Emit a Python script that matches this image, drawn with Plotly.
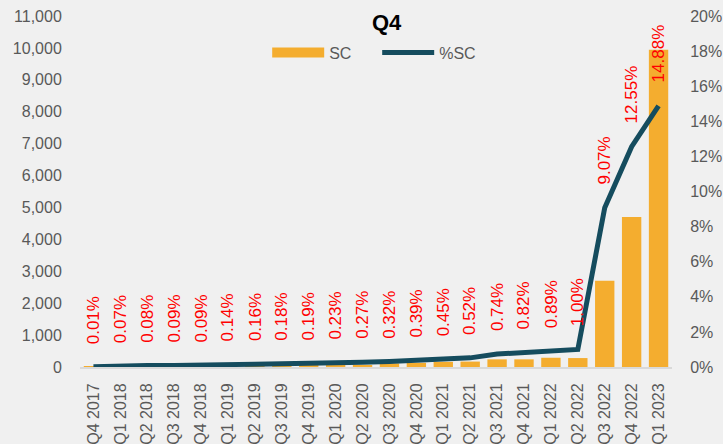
import plotly.graph_objects as go

categories = ["Q4 2017", "Q1 2018", "Q2 2018", "Q3 2018", "Q4 2018", "Q1 2019", "Q2 2019",
              "Q3 2019", "Q4 2019", "Q1 2020", "Q2 2020", "Q3 2020", "Q4 2020", "Q1 2021",
              "Q2 2021", "Q3 2021", "Q4 2021", "Q1 2022", "Q2 2022", "Q3 2022", "Q4 2022", "Q1 2023"]
sc_values = [2, 10, 12, 14, 15, 22, 26, 30, 32, 40, 50, 110, 130, 160, 170, 240, 240, 290, 280,
             2700, 4700, 9940]
pct_sc = [0.0001, 0.0007, 0.0008, 0.0009, 0.0009, 0.0014, 0.0016, 0.0018, 0.0019, 0.0023, 0.0027,
          0.0032, 0.0039, 0.0045, 0.0052, 0.0074, 0.0082, 0.0089, 0.0100, 0.0907, 0.1255, 0.1488]

BG = "#f0f0f0"
GRAY = "#595959"
ORANGE = "#f4ad2f"
TEAL = "#154c5e"
FONT = "Liberation Sans, Arial, sans-serif"

fig = go.Figure()
fig.add_trace(go.Bar(x=categories, y=sc_values, name="SC", marker_color=ORANGE,
                     marker_line_width=0, width=0.72, yaxis="y", showlegend=False))
fig.add_trace(go.Scatter(x=categories, y=pct_sc, name="%SC", mode="lines",
                         line=dict(color=TEAL, width=5), yaxis="y2", showlegend=False))
# legend entries (wide swatches like the original)
fig.add_trace(go.Scatter(x=[None], y=[None], name="SC", mode="lines",
                         line=dict(color=ORANGE, width=11), yaxis="y"))
fig.add_trace(go.Scatter(x=[None], y=[None], name="%SC", mode="lines",
                         line=dict(color=TEAL, width=5), yaxis="y2"))

for c, v in zip(categories, pct_sc):
    fig.add_annotation(x=c, y=v, xref="x", yref="y2", text=f"{v*100:.2f}%", showarrow=False,
                       textangle=-90, yanchor="bottom", xanchor="center", yshift=21,
                       font=dict(color="#ff0000", size=17, family=FONT))

fig.update_layout(
    width=723, height=444,
    margin=dict(l=80, r=51, t=16, b=77),
    paper_bgcolor=BG, plot_bgcolor=BG,
    font=dict(family=FONT, color=GRAY, size=16),
    title=dict(text="<b>Q4</b>", x=0.518, xref="paper", xanchor="center", y=0.95, yanchor="middle",
               font=dict(size=22, color="#000000", family=FONT)),
    legend=dict(orientation="h", x=0.502, xanchor="center", y=0.896, yanchor="middle",
                bgcolor="rgba(0,0,0,0)", font=dict(size=16, color=GRAY), itemwidth=52,
                entrywidth=43, traceorder="normal"),
    xaxis=dict(type="category", tickangle=-90, showgrid=False, showline=True, linecolor="#d9d9d9",
               linewidth=2, ticks="outside", ticklen=8, tickcolor=BG, automargin=False,
               tickfont=dict(size=16, color=GRAY)),
    yaxis=dict(range=[0, 11000], dtick=1000, tickformat=",", showgrid=False, zeroline=False,
               ticks="outside", ticklen=14, tickcolor=BG, automargin=False,
               tickfont=dict(size=16, color=GRAY)),
    yaxis2=dict(range=[0, 0.20], dtick=0.02, tickformat=".0%", overlaying="y", side="right",
                showgrid=False, zeroline=False, ticks="outside", ticklen=14, tickcolor=BG,
                automargin=False, tickfont=dict(size=16, color=GRAY)),
)

fig.write_html("out.html", config={"displayModeBar": False},
               post_script="document.body.style.margin='0';document.body.style.background='#f0f0f0';")
